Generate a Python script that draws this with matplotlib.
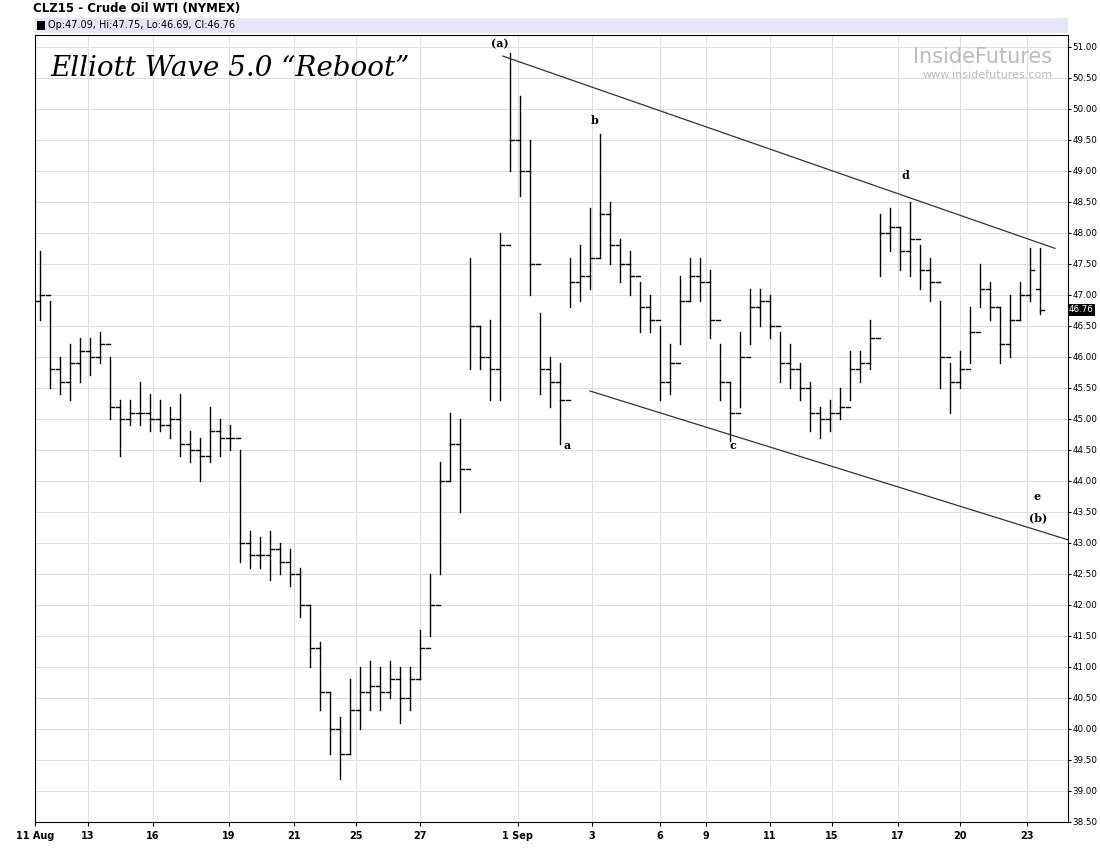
import matplotlib
matplotlib.use("Agg")
import matplotlib.pyplot as plt

highs = [47.7,46.9,46.0,46.2,46.3,46.3,46.4,46.0,45.3,45.3,45.6,45.4,45.3,45.2,45.4,44.8,44.7,45.2,45.0,44.9,
         44.5,43.2,43.1,43.2,43.0,42.9,42.6,42.0,41.4,40.6,40.2,40.8,41.0,41.1,41.0,41.1,41.0,41.0,41.6,42.5,
         44.3,45.1,45.0,47.6,46.5,46.6,48.0,50.9,50.2,49.5,46.7,46.0,45.9,47.6,47.8,48.4,49.6,48.5,47.9,47.7,
         47.2,47.0,46.5,46.2,47.3,47.6,47.6,47.4,46.2,45.6,46.4,47.1,47.1,47.0,46.4,46.2,45.9,45.6,45.2,45.3,
         45.5,46.1,46.1,46.6,48.3,48.4,48.1,48.5,47.8,47.6,46.9,45.9,46.1,46.8,47.5,47.2,46.8,47.0,47.2,47.75,47.75]
lows = [46.6,45.5,45.4,45.3,45.6,45.7,45.9,45.0,44.4,44.9,44.9,44.8,44.8,44.7,44.4,44.3,44.0,44.3,44.4,44.5,
        42.7,42.6,42.6,42.4,42.5,42.3,41.8,41.0,40.3,39.6,39.2,39.6,40.0,40.3,40.3,40.5,40.1,40.3,40.8,41.5,
        42.5,44.0,43.5,45.8,45.8,45.3,45.3,49.0,48.6,47.0,45.4,45.2,44.6,46.8,46.9,47.1,47.6,47.5,47.2,47.0,
        46.4,46.4,45.3,45.4,46.2,46.9,46.9,46.3,45.3,44.65,45.2,46.2,46.5,46.3,45.6,45.5,45.3,44.8,44.7,44.8,
        45.0,45.3,45.6,45.8,47.3,47.7,47.4,47.3,47.1,46.9,45.5,45.1,45.5,45.9,46.8,46.6,45.9,46.0,46.6,46.9,46.69]
closes = [47.0,45.8,45.6,45.9,46.1,46.0,46.2,45.2,45.0,45.1,45.1,45.0,44.9,45.0,44.6,44.5,44.4,44.8,44.7,44.7,
          43.0,42.8,42.8,42.9,42.7,42.5,42.0,41.3,40.6,40.0,39.6,40.3,40.6,40.7,40.6,40.8,40.5,40.8,41.3,42.0,
          44.0,44.6,44.2,46.5,46.0,45.8,47.8,49.5,49.0,47.5,45.8,45.6,45.3,47.2,47.3,47.6,48.3,47.8,47.5,47.3,
          46.8,46.6,45.6,45.9,46.9,47.3,47.2,46.6,45.6,45.1,46.0,46.8,46.9,46.5,45.9,45.8,45.5,45.1,45.0,45.1,
          45.2,45.8,45.9,46.3,48.0,48.1,47.7,47.9,47.4,47.2,46.0,45.6,45.8,46.4,47.1,46.8,46.2,46.6,47.0,47.4,46.76]
opens = [46.9] + closes[:-1]
opens[-1] = 47.09

tick_pos = [-0.5,4.8,11.3,18.9,25.4,31.6,38,47.8,55.2,62,66.6,73,79.2,85.8,92,98.7]
tick_lab = ["11 Aug","13","16","19","21","25","27","1 Sep","3","6","9","11","15","17","20","23"]

upper_line = ([46.3,101.5],[50.85,47.75])
lower_line = ([55,102.8],[45.45,43.05])
wave_labels = [("(a)",46.0,51.05),("b",55.5,49.82),("a",52.7,44.57),("c",69.3,44.57),
               ("d",86.5,48.93),("e",99.7,43.75),("(b)",99.8,43.4)]

fig = plt.figure(figsize=(11,8.61), dpi=100)
ax = fig.add_axes([0.0318,0.0453,0.9391,0.914])
for i,(o,h,l,c) in enumerate(zip(opens,highs,lows,closes)):
    ax.plot([i,i],[l,h],color="black",lw=1)
    ax.plot([i-0.4,i],[o,o],color="black",lw=1)
    ax.plot([i,i+0.4],[c,c],color="black",lw=1)
ax.plot(*upper_line,color="#333333",lw=0.9)
ax.plot(*lower_line,color="#333333",lw=0.9)
for t,x,y in wave_labels:
    ax.text(x,y,t,ha="center",va="center",fontsize=8,fontweight="bold",family="DejaVu Serif")

ax.set_xlim(-0.5,102.8)
ax.set_ylim(38.5,51.19)
ax.yaxis.tick_right()
ax.set_yticks([38.5+0.5*k for k in range(26)])
ax.set_yticklabels([f"{38.5+0.5*k:.2f}" for k in range(26)],fontsize=6.3)
ax.set_xticks(tick_pos)
ax.set_xticklabels(tick_lab,fontsize=7,fontweight="bold")
ax.grid(True,color="#dddddd",lw=0.7)
ax.tick_params(axis="y",length=2,pad=1)
ax.tick_params(axis="x",length=3)
ax.text(1.001,(46.76-38.5)/(51.19-38.5),"46.76",transform=ax.transAxes,fontsize=6.3,color="white",
        va="center",ha="left",bbox=dict(facecolor="black",edgecolor="none",pad=1))

ax.text(0.015,0.975,"Elliott Wave 5.0 \u201cReboot\u201d",transform=ax.transAxes,fontsize=20,
        style="italic",family="DejaVu Serif",va="top")
ax.text(0.985,0.985,"InsideFutures",transform=ax.transAxes,fontsize=15,color="#bbbbbb",ha="right",va="top")
ax.text(0.985,0.955,"www.insidefutures.com",transform=ax.transAxes,fontsize=8,color="#bbbbbb",ha="right",va="top")

fig.text(0.03,0.998,"CLZ15 - Crude Oil WTI (NYMEX)",fontsize=8.5,fontweight="bold",va="top")
fig.patches.append(matplotlib.patches.Rectangle((0.0318,0.962),0.9391,0.017,transform=fig.transFigure,
                   facecolor="#e6e6fa",edgecolor="none"))
fig.patches.append(matplotlib.patches.Rectangle((0.034,0.965),0.007,0.011,transform=fig.transFigure,
                   facecolor="black",edgecolor="none"))
fig.text(0.044,0.9705,"Op:47.09, Hi:47.75, Lo:46.69, Cl:46.76",fontsize=7,va="center")
fig.savefig("out.png",dpi=100)
